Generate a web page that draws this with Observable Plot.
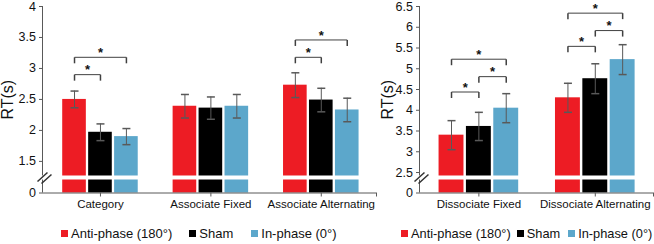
<!DOCTYPE html>
<html><head><meta charset="utf-8">
<script src="https://cdn.jsdelivr.net/npm/d3@7"></script>
<script src="https://cdn.jsdelivr.net/npm/@observablehq/plot@0.6"></script>
<style>
body{margin:0;background:#fff;font-family:"Liberation Sans",Arial,sans-serif;}
#wrap{position:relative;width:654px;height:244px;overflow:hidden;}
.panel{position:absolute;top:0;}
.legend{position:absolute;top:226px;height:15px;display:flex;align-items:center;font-size:13px;color:#111;white-space:nowrap;}
.legend .item{display:flex;align-items:center;}
.legend .sw{display:inline-block;width:7px;height:7px;margin-right:3px;}
[aria-label="y-axis label"]{font-size:16px !important;}
[aria-label="y-axis label"] text{font-size:16px !important;}
</style></head><body><div id="wrap"></div>
<script>
const series = ["Anti-phase (180°)", "Sham", "In-phase (0°)"];
const colors = ["#ED1C24", "#000000", "#5CA7CB"];

const leftCategories = ["Category", "Associate Fixed", "Associate Alternating"];
const leftMeans = [[2.50, 1.97, 1.90], [2.39, 2.36, 2.39], [2.73, 2.49, 2.33]];
const leftErrors = [[0.135, 0.135, 0.13], [0.19, 0.18, 0.19], [0.20, 0.19, 0.19]];
const leftTicks = [0, 1.5, 2, 2.5, 3, 3.5, 4];
const leftBreak = 1.24;
// [category index, from series, to series, bracket level]
const leftSig = [[0, 0, 1, 2.90], [0, 0, 2, 3.18], [2, 0, 1, 3.18], [2, 0, 2, 3.46]];

const rightCategories = ["Dissociate Fixed", "Dissociate Alternating"];
const rightMeans = [[3.40, 3.61, 4.05], [4.30, 4.76, 5.22]];
const rightErrors = [[0.35, 0.34, 0.35], [0.35, 0.36, 0.36]];
const rightTicks = [0, 2.5, 3, 3.5, 4, 4.5, 5, 5.5, 6, 6.5];
const rightBreak = 2.38;
const rightSig = [[0, 0, 1, 4.44], [0, 1, 2, 4.81], [0, 0, 2, 5.23], [1, 0, 1, 5.54], [1, 1, 2, 5.92], [1, 0, 2, 6.34]];

const capSym = {draw(ctx) { ctx.moveTo(-4, 0); ctx.lineTo(4, 0); }};
const legSym = {draw(ctx) { ctx.moveTo(0, 0); ctx.lineTo(0, 6); }};
const breakSym = {draw(ctx) { ctx.moveTo(-5, 4); ctx.lineTo(5, -5); ctx.moveTo(-1, 6); ctx.lineTo(9, -3); }};

function makePanel(cfg) {
  const {categories, means, errors, ticks, brk, sig, width, height, marginLeft, marginRight, xmin, labelOffset} = cfg;
  const marginTop = 6, marginBottom = height - 192.5, breakGap = 15.5;
  const top = ticks[ticks.length - 1];
  // broken axis: below the break the values are squeezed into a short strip
  const squeeze = (breakGap / (height - marginBottom - marginTop - breakGap)) * (top - brk) / brk;
  const yf = v => v <= brk ? v * squeeze : brk * squeeze + (v - brk);
  const step = 0.235, barW = 0.214;
  const rows = categories.flatMap((c, i) => series.map((s, j) => ({s, v: means[i][j], e: errors[i][j], xc: i + (j - 1) * step})));
  const brackets = sig.map(([i, a, b, lvl]) => ({x1: i + (a - 1) * step, x2: i + (b - 1) * step, y: lvl}));
  const legs = brackets.flatMap(d => [{x: d.x1, y: d.y}, {x: d.x2, y: d.y}]);
  const caps = rows.flatMap(d => [{x: d.xc, y: d.v + d.e}, {x: d.xc, y: d.v - d.e}]);
  const xmax = categories.length - 0.5;
  const axisStroke = "#595959";
  return Plot.plot({
    width, height, marginLeft, marginRight, marginTop, marginBottom,
    style: {fontFamily: '"Liberation Sans", Arial, sans-serif', fontSize: "12.5px", color: "#111", background: "white", overflow: "visible"},
    x: {domain: [xmin, xmax]},
    y: {domain: [0, yf(top)]},
    color: {domain: series, range: colors},
    marks: [
      Plot.rectY(rows, {x1: d => d.xc - barW / 2, x2: d => d.xc + barW / 2, y1: () => 0, y2: d => yf(d.v), fill: "s"}),
      Plot.ruleX(rows, {x: "xc", y1: d => yf(d.v - d.e), y2: d => yf(d.v + d.e), stroke: axisStroke}),
      Plot.dot(caps, {x: "x", y: d => yf(d.y), symbol: capSym, stroke: axisStroke, fill: "none"}),
      Plot.ruleX([xmin], {y1: () => 0, y2: () => yf(top), stroke: axisStroke}),
      Plot.ruleY([brk], {y: yf, stroke: "white", strokeWidth: 4}),
      Plot.dot([{x: xmin, y: brk}], {x: "x", y: d => yf(d.y), symbol: breakSym, stroke: "#333", fill: "none"}),
      Plot.ruleY([0], {stroke: axisStroke}),
      Plot.axisY({ticks: ticks.map(yf), tickSize: 3, tickPadding: 3.5, stroke: axisStroke,
        tickFormat: (t, i) => String(ticks[i]),
        label: "RT(s)", labelAnchor: "center", labelArrow: "none", labelOffset}),
      Plot.axisX({ticks: [...categories.map((_, i) => i), xmax], tickSize: 4, tickPadding: 3,
        tickFormat: i => categories[i] ?? "", stroke: axisStroke, fontSize: 11.5, label: null}),
      Plot.link(brackets, {x1: "x1", x2: "x2", y1: d => yf(d.y), y2: d => yf(d.y), stroke: "#404040"}),
      Plot.dot(legs, {x: "x", y: d => yf(d.y), symbol: legSym, stroke: "#404040", fill: "none"}),
      Plot.text(brackets, {x: d => (d.x1 + d.x2) / 2, y: d => yf(d.y), text: () => "*", dy: -4.5, fontSize: 13, fontWeight: "bold", fill: "#111"})
    ]
  });
}

function makeLegend(left, gaps, fontSize) {
  const div = document.createElement("div");
  div.className = "legend";
  div.style.left = left + "px";
  div.style.fontSize = fontSize + "px";
  series.forEach((s, j) => {
    const item = document.createElement("span");
    item.className = "item";
    item.style.marginRight = (gaps[j] || 0) + "px";
    const sw = document.createElement("span");
    sw.className = "sw";
    sw.style.background = colors[j];
    item.append(sw, document.createTextNode(s));
    div.append(item);
  });
  return div;
}

const wrap = document.getElementById("wrap");
const left = makePanel({categories: leftCategories, means: leftMeans, errors: leftErrors, ticks: leftTicks,
  brk: leftBreak, sig: leftSig, width: 380, height: 215, marginLeft: 42, marginRight: 4,
  xmin: -0.525, labelOffset: 41});
const right = makePanel({categories: rightCategories, means: rightMeans, errors: rightErrors, ticks: rightTicks,
  brk: rightBreak, sig: rightSig, width: 274, height: 215, marginLeft: 39, marginRight: 1,
  xmin: -0.51, labelOffset: 38});
const lp = document.createElement("div"); lp.className = "panel"; lp.style.left = "0px"; lp.append(left);
const rp = document.createElement("div"); rp.className = "panel"; rp.style.left = "380px"; rp.append(right);
wrap.append(lp, rp, makeLegend(61, [17, 18], 13), makeLegend(401, [6, 8], 12.8));
</script></body></html>
